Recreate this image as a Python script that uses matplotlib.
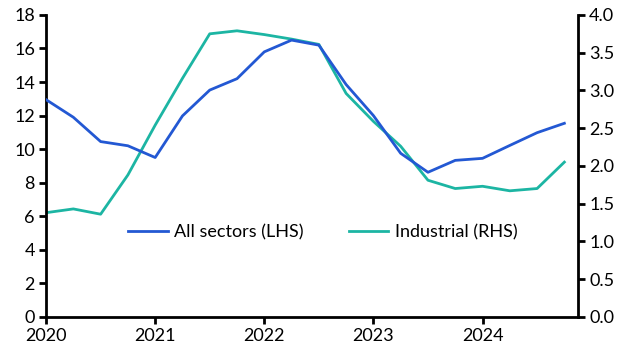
import matplotlib

matplotlib.use("Agg")
import matplotlib.pyplot as plt
import numpy as np

# quarterly data, 2020Q1 .. 2024Q4
YEAR_START = 2020
all_sectors = [12.95, 11.9, 10.45, 10.2, 9.5, 11.98, 13.52, 14.2, 15.8, 16.5,
               16.2, 13.85, 12.0, 9.75, 8.62, 9.33, 9.45, 10.22, 10.98, 11.54]
industrial = [1.38, 1.43, 1.36, 1.88, 2.54, 3.16, 3.75, 3.79, 3.74, 3.68,
              3.61, 2.96, 2.59, 2.26, 1.81, 1.70, 1.73, 1.67, 1.70, 2.05]
years = [2020, 2021, 2022, 2023, 2024]
lhs_ticks = list(range(0, 19, 2))
rhs_ticks = [0.0, 0.5, 1.0, 1.5, 2.0, 2.5, 3.0, 3.5, 4.0]

BLUE = "#2358d3"
TEAL = "#1cb5a3"

plt.rcParams["font.family"] = ["Lato", "DejaVu Sans"]
plt.rcParams["font.size"] = 13

x = YEAR_START + np.arange(len(all_sectors)) * 0.25

fig, ax = plt.subplots(figsize=(6.31, 3.56), dpi=100)
fig.subplots_adjust(left=0.073, right=0.916, top=0.958, bottom=0.11)
ax2 = ax.twinx()

l1, = ax.plot(x, all_sectors, color=BLUE, lw=2.0, label="All sectors (LHS)", zorder=3)
l2, = ax2.plot(x, industrial, color=TEAL, lw=2.0, label="Industrial (RHS)")
ax.set_zorder(ax2.get_zorder() + 1)
ax.patch.set_visible(False)

ax.set_xlim(2020, 2024.875)
ax.set_ylim(0, 18)
ax2.set_ylim(0, 4)
ax.set_yticks(lhs_ticks)
ax2.set_yticks(rhs_ticks)
ax2.set_yticklabels([f"{v:.1f}" for v in rhs_ticks])
ax.set_xticks(years)
ax.set_xticklabels([str(y) for y in years])

for a in (ax, ax2):
    a.spines["top"].set_visible(False)
    for s in ("left", "right", "bottom"):
        a.spines[s].set_linewidth(2.0)
    a.tick_params(direction="out", length=5, width=2, colors="black",
                  labelsize=13, pad=3)
ax.spines["right"].set_visible(False)
ax2.spines["left"].set_visible(False)
ax2.spines["bottom"].set_visible(False)

ax.legend(handles=[l1, l2], loc="center", bbox_to_anchor=(0.52, 0.28),
          ncol=2, frameon=False, fontsize=13, handlelength=2.2,
          columnspacing=2.5, handletextpad=0.35)

fig.savefig("out.png", dpi=100)
